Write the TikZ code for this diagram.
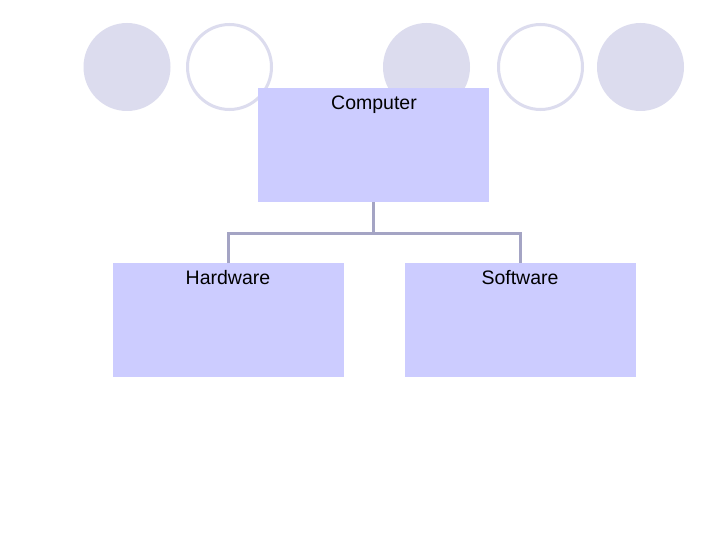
\documentclass[tikz,border=0pt]{standalone}
\usepackage{fontspec}
\setmainfont{Liberation Sans}
\definecolor{circfill}{HTML}{DCDCEE}
\definecolor{boxfill}{HTML}{CCCCFF}
\definecolor{linec}{HTML}{A4A4C4}
\begin{document}
\begin{tikzpicture}[x=1pt,y=-1pt,
  dot/.style={fill=circfill,draw=none},
  ring/.style={draw=circfill,line width=3pt,fill=white},
  box/.style={fill=boxfill,draw=none,minimum width=231pt,minimum height=114pt,inner sep=0pt,anchor=north west},
  lbl/.style={font=\fontsize{19.5}{22}\selectfont,inner sep=0pt},
  conn/.style={draw=linec,line width=3pt}]
\useasboundingbox (0,0) rectangle (720,540);
\fill[white] (0,0) rectangle (720,540);
\path[dot] (127,67) ellipse [x radius=43.5, y radius=44];
\path[ring] (229.5,67) ellipse [x radius=42, y radius=42.5];
\path[dot] (426.5,67) ellipse [x radius=43.5, y radius=44];
\path[ring] (540.5,67) ellipse [x radius=42, y radius=42.5];
\path[dot] (640.5,67) ellipse [x radius=43.5, y radius=44];
\node[box] (comp) at (258,88) {};
\node[box] (hw) at (113,263) {};
\node[box] (sw) at (405,263) {};
\node[lbl] (tc) at (374,105) {Computer};
\node[lbl] (th) at (228,278) {Hardware};
\node[lbl] (ts) at (520,278) {Software};
\coordinate (j) at ([yshift=-31pt]comp.south);
\path[conn] (comp.south) -- (j);
\path[conn] (hw.north) |- (j) -| (sw.north);
\end{tikzpicture}
\end{document}
